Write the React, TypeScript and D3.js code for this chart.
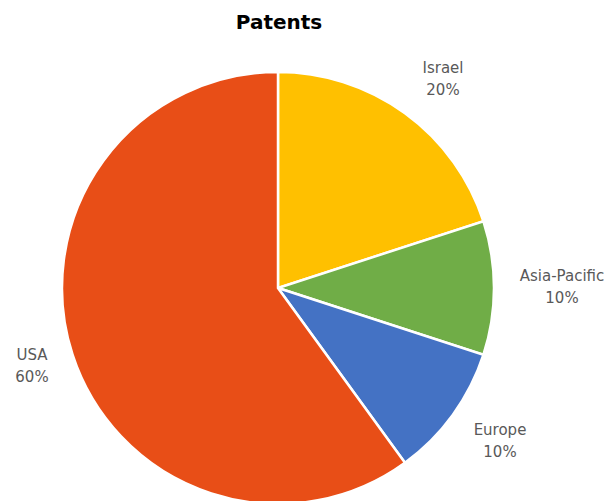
import React from "react";
import * as d3 from "d3";

const categories = ["Israel", "Asia-Pacific", "Europe", "USA"];
const values = [20, 10, 10, 60];
const colors = ["#FFC000", "#70AD47", "#4472C4", "#E84E17"];
const labelPos: [number, number][] = [[443, 68], [562, 276], [500, 430], [32, 355]];

export default function App() {
  const W = 613, H = 501;
  const cx = 278, cy = 288, r = 216;
  const pie = d3.pie<number>().sort(null).value((d) => d)(values);
  const arc = d3.arc<d3.PieArcDatum<number>>().innerRadius(0).outerRadius(r);
  const total = d3.sum(values);
  return (
    <svg width={W} height={H} style={{ position: "absolute", left: 0, top: 0 }}>
      <rect width={W} height={H} fill="#fff" />
      <text x={279} y={29} textAnchor="middle" fontFamily="'DejaVu Sans', sans-serif" fontWeight="bold" fontSize={20} fill="#000">Patents</text>
      <g transform={`translate(${cx},${cy})`}>
        {pie.map((p, i) => (
          <path key={i} d={arc(p) || ""} fill={colors[i]} stroke="#fff" strokeWidth={2.5} />
        ))}
      </g>
      {categories.map((c, i) => (
        <text key={c} x={labelPos[i][0]} y={labelPos[i][1]} textAnchor="middle" fontFamily="'DejaVu Sans', sans-serif" fontSize={15} fill="#595959">
          <tspan x={labelPos[i][0]} dy="0.35em">{c}</tspan>
          <tspan x={labelPos[i][0]} dy="1.45em">{Math.round((values[i] / total) * 100)}%</tspan>
        </text>
      ))}
    </svg>
  );
}
